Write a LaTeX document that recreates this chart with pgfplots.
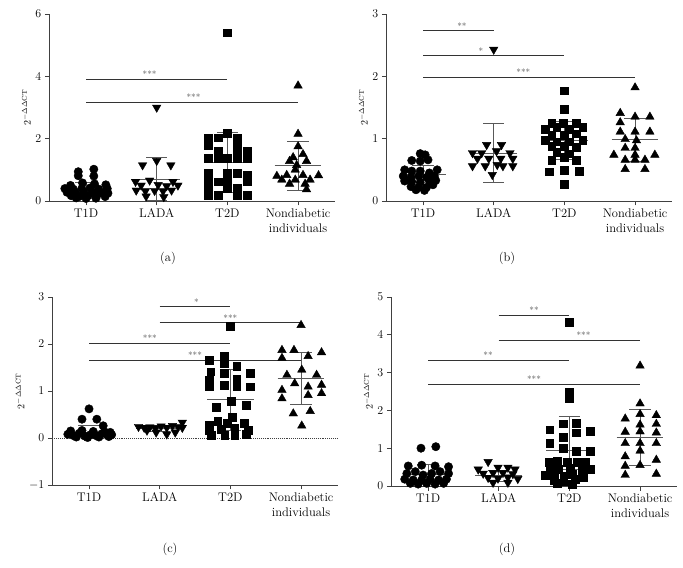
\documentclass[border=0pt]{standalone}
\usepackage{pgfplots}
\pgfplotsset{compat=1.18}
\newcommand{\lbl}{\fontsize{12.5bp}{15bp}\selectfont}
\newcommand{\stf}{\fontsize{9bp}{10bp}\selectfont}
\pgfplotsset{
  panel/.style={
    scale only axis, width=285.5bp, xmin=-0.52, xmax=3.52,
    axis lines=left, axis line style={-, black!75, line width=0.9bp},
    every tick/.style={black!75, line width=0.9bp},
    tick align=outside, major tick length=4.5bp,
    xtick={0,1,2,3},
    xticklabels={T1D,LADA,T2D,{Nondiabetic\\individuals}},
    xticklabel style={align=center, font=\lbl},
    yticklabel style={font=\lbl},
    ylabel={$2^{-\Delta\Delta\mathrm{CT}}$},
    ylabel style={font=\fontsize{9.5bp}{11bp}\selectfont, yshift=-2bp},
    clip=false, unbounded coords=jump, anchor=south west,
  },
  g1/.style={only marks, mark=*, mark size=4.2bp, black},
  g2/.style={only marks, mark=triangle*, mark size=4.9bp, mark options={rotate=180}, black},
  g3/.style={only marks, mark=square*, mark size=3.9bp, black},
  g4/.style={only marks, mark=triangle*, mark size=4.9bp, black},
  ebar/.style={black!65, line width=0.9bp, mark=none},
  sig/.style={black!80, line width=0.9bp, mark=none},
}
\begin{document}
\begin{tikzpicture}
\useasboundingbox (0,0) rectangle (683bp,568bp);
% ---------------- (a)
\begin{axis}[panel, at={(49.3bp,367bp)}, height=187bp, ymin=0, ymax=6, ytick={0,2,4,6}]
\addplot[g1] coordinates {(-0.11,0.94) (-0.11,0.81) (0.11,1.02) (0.11,0.80) (-0.05,0.58) (0.12,0.55) (-0.22,0.50) (0.28,0.52)
 (-0.30,0.40) (-0.18,0.38) (-0.06,0.40) (0.06,0.42) (0.18,0.38) (0.30,0.40)
 (-0.27,0.28) (-0.15,0.27) (-0.03,0.28) (0.09,0.29) (0.21,0.27) (0.31,0.25)
 (-0.21,0.17) (-0.09,0.15) (0.03,0.17) (0.15,0.16) (0.27,0.14) (-0.14,0.10) (0.00,0.08) (0.14,0.09)};
\addplot[g2] coordinates {(1,3.0) (1,1.29) (0.8,1.15) (1.2,1.15)
 (0.70,0.62) (0.90,0.66) (1.23,0.62) (0.78,0.50) (1.02,0.52) (1.14,0.48) (1.30,0.50)
 (0.71,0.34) (0.84,0.32) (0.97,0.33) (1.09,0.32) (1.21,0.34) (0.85,0.15) (1.10,0.13)};
\addplot[g3] coordinates {(2,5.4) (2,2.17) (1.73,2.03) (1.87,2.03) (2.14,2.03)
 (1.73,1.80) (2.14,1.80) (1.87,1.60) (2.14,1.60) (2.28,1.60)
 (1.73,1.38) (1.87,1.38) (2.00,1.38) (2.14,1.38) (2.28,1.38)
 (1.73,0.90) (2.00,0.90) (2.14,0.88) (2.28,0.83)
 (1.73,0.62) (1.87,0.62) (2.00,0.62) (2.28,0.62)
 (1.73,0.41) (2.00,0.41) (2.14,0.41)
 (1.73,0.19) (1.87,0.19) (2.14,0.19) (2.28,0.19)};
\addplot[g4] coordinates {(3,3.70) (3,2.15) (3,1.75) (3.07,1.50) (2.93,1.40) (2.88,1.28) (3.12,1.28) (2.98,1.15) (2.96,1.00)
 (2.70,0.80) (2.84,0.83) (3.07,0.83) (3.29,0.82) (2.77,0.68) (2.96,0.68) (3.17,0.68) (2.88,0.55) (3.10,0.55) (3.12,0.37)};
\addplot[ebar] coordinates {
 (-0.33,0.38) (0.33,0.38) (0,nan) (0,0.14) (0,0.61) (0,nan) (-0.15,0.14) (0.15,0.14) (0,nan) (-0.15,0.61) (0.15,0.61) (0,nan)
 (0.67,0.70) (1.33,0.70) (0,nan) (1,0.02) (1,1.39) (0,nan) (0.85,0.02) (1.15,0.02) (0,nan) (0.85,1.39) (1.15,1.39) (0,nan)
 (1.67,1.23) (2.33,1.23) (0,nan) (2,0.27) (2,2.20) (0,nan) (1.85,0.27) (2.15,0.27) (0,nan) (1.85,2.20) (2.15,2.20) (0,nan)
 (2.67,1.13) (3.33,1.13) (0,nan) (3,0.35) (3,1.91) (0,nan) (2.85,0.35) (3.15,0.35) (0,nan) (2.85,1.91) (3.15,1.91)};
\addplot[sig] coordinates {(0,3.90) (2,3.90) (0,nan) (0,3.17) (3,3.17)};
\node[anchor=south, font=\stf, text=black!65, inner sep=1.5bp] at (axis cs:0.9,3.90) {***};
\node[anchor=south, font=\stf, text=black!65, inner sep=1.5bp] at (axis cs:1.52,3.17) {***};
\end{axis}
% ---------------- (b)
\begin{axis}[panel, at={(386.3bp,367bp)}, height=187bp, ymin=0, ymax=3, ytick={0,1,2,3}]
\addplot[g1] coordinates {(-0.04,0.76) (0.03,0.74) (-0.16,0.65) (-0.04,0.64) (0.07,0.66)
 (-0.26,0.50) (-0.16,0.48) (-0.04,0.48) (0.20,0.50) (0.09,0.45)
 (-0.28,0.40) (-0.17,0.38) (-0.06,0.40) (0.05,0.38) (0.16,0.40)
 (-0.26,0.32) (-0.16,0.31) (-0.04,0.30) (0.09,0.32) (0.18,0.33)
 (-0.17,0.23) (-0.06,0.22) (0.05,0.22) (0.14,0.26) (-0.10,0.18) (0.02,0.17)};
\addplot[g2] coordinates {(1,2.43) (0.90,0.90) (1.11,0.90) (0.70,0.77) (0.83,0.77) (1.04,0.80) (1.23,0.77)
 (0.77,0.68) (0.93,0.68) (1.10,0.68) (1.27,0.68) (0.70,0.56) (0.88,0.56) (1.05,0.58) (1.13,0.56) (1.27,0.56) (0.98,0.42)};
\addplot[g3] coordinates {(2,1.77) (2,1.47) (1.82,1.25) (1.98,1.25) (2.17,1.25)
 (1.73,1.15) (1.89,1.18) (2.07,1.15) (2.26,1.18) (1.82,1.05) (2.00,1.05) (2.17,1.08)
 (1.73,0.97) (1.89,0.95) (2.07,0.95) (2.26,0.98) (1.82,0.88) (2.00,0.88) (2.17,0.86)
 (1.89,0.78) (2.07,0.76) (1.82,0.66) (2.00,0.70) (2.17,0.66)
 (1.78,0.47) (2.00,0.50) (2.21,0.48) (2.00,0.27)};
\addplot[g4] coordinates {(3,1.82) (2.79,1.41) (3,1.35) (3.21,1.35) (2.79,1.26)
 (2.79,1.11) (3,1.11) (3.21,1.11) (2.86,0.99) (3.02,0.97) (2.86,0.85) (3,0.85)
 (2.70,0.74) (3,0.74) (3.28,0.74) (2.86,0.66) (3,0.66) (3.14,0.66) (2.86,0.51) (3.14,0.51)};
\addplot[ebar] coordinates {
 (-0.33,0.42) (0.33,0.42) (0,nan) (0,0.27) (0,0.57) (0,nan) (-0.15,0.27) (0.15,0.27) (0,nan) (-0.15,0.57) (0.15,0.57) (0,nan)
 (0.67,0.77) (1.33,0.77) (0,nan) (1,0.30) (1,1.24) (0,nan) (0.85,0.30) (1.15,0.30) (0,nan) (0.85,1.24) (1.15,1.24) (0,nan)
 (1.67,0.97) (2.33,0.97) (0,nan) (2,0.66) (2,1.27) (0,nan) (1.85,0.66) (2.15,0.66) (0,nan) (1.85,1.27) (2.15,1.27) (0,nan)
 (2.67,0.98) (3.33,0.98) (0,nan) (3,0.63) (3,1.33) (0,nan) (2.85,0.63) (3.15,0.63) (0,nan) (2.85,1.33) (3.15,1.33)};
\addplot[sig] coordinates {(0,2.73) (1,2.73) (0,nan) (0,2.33) (2,2.33) (0,nan) (0,1.98) (3,1.98)};
\node[anchor=south, font=\stf, text=black!65, inner sep=1.5bp] at (axis cs:0.55,2.73) {**};
\node[anchor=south, font=\stf, text=black!65, inner sep=1.5bp] at (axis cs:0.82,2.33) {*};
\node[anchor=south, font=\stf, text=black!65, inner sep=1.5bp] at (axis cs:1.42,1.98) {***};
\end{axis}
% ---------------- (c)
\begin{axis}[panel, at={(52.3bp,83bp)}, height=188bp, ymin=-1, ymax=3, ytick={-1,0,1,2,3}]
\addplot[black!75, densely dotted, line width=0.9bp, mark=none] coordinates {(-0.52,0) (3.52,0)};
\addplot[g1] coordinates {(0.0,0.62) (-0.10,0.40) (0.11,0.40) (0.20,0.26)
 (-0.30,0.08) (-0.22,0.05) (-0.14,0.10) (-0.06,0.04) (0.02,0.07) (0.10,0.05) (0.18,0.09) (0.26,0.06) (0.32,0.07)
 (-0.26,0.15) (-0.10,0.16) (0.06,0.14) (0.22,0.13) (0.30,0.12)
 (-0.18,0.02) (-0.02,0.01) (0.14,0.02) (0.28,0.03)};
\addplot[g2] coordinates {(0.70,0.24) (0.78,0.22) (0.86,0.23) (0.94,0.21) (1.02,0.25) (1.10,0.22) (1.18,0.26) (1.26,0.24) (1.32,0.33) (1.32,0.22)
 (0.95,0.12) (1.10,0.08) (1.22,0.12) (0.82,0.16)};
\addplot[g3] coordinates {(2,2.38) (1.70,1.66) (1.91,1.745) (1.91,1.59) (2.09,1.52) (1.72,1.41) (1.91,1.38) (2.28,1.38)
 (1.70,1.23) (2.09,1.26) (1.70,1.09) (1.91,1.13) (2.09,1.09) (2.28,1.09) (2.01,0.79) (2.22,0.70)
 (1.80,0.65) (2.03,0.44) (1.70,0.28) (1.82,0.35) (1.96,0.31) (2.20,0.31)
 (1.70,0.16) (1.87,0.18) (2.06,0.21) (2.25,0.16) (1.73,0.06) (1.92,0.06) (2.06,0.06) (2.22,0.08)};
\addplot[g4] coordinates {(3,2.40) (2.73,1.87) (2.90,1.87) (3.29,1.82) (2.73,1.70) (3.10,1.74) (3.01,1.45) (2.80,1.34) (3.22,1.34)
 (2.91,1.16) (3.10,1.09) (3.29,1.13) (2.73,1.02) (3.10,0.91) (3.29,0.95) (2.73,0.84) (2.89,0.52) (3.13,0.57) (3.01,0.26)};
\addplot[ebar] coordinates {
 (-0.33,0.11) (0.33,0.11) (0,nan) (-0.15,0.26) (0.15,0.26) (0,nan)
 (0.67,0.20) (1.33,0.20) (0,nan) (0.85,0.27) (1.15,0.27) (0,nan) (0.85,0.14) (1.15,0.14) (0,nan)
 (1.67,0.81) (2.33,0.81) (0,nan) (2,0.17) (2,1.45) (0,nan) (1.85,0.17) (2.15,0.17) (0,nan) (1.85,1.45) (2.15,1.45) (0,nan)
 (2.67,1.27) (3.33,1.27) (0,nan) (3,0.72) (3,1.81) (0,nan) (2.85,0.72) (3.15,0.72) (0,nan) (2.85,1.81) (3.15,1.81)};
\addplot[sig] coordinates {(1,2.79) (2,2.79) (0,nan) (1,2.45) (3,2.45) (0,nan) (0,2.01) (2,2.01) (0,nan) (0,1.65) (3,1.65)};
\node[anchor=south, font=\stf, text=black!65, inner sep=1.5bp] at (axis cs:1.52,2.79) {*};
\node[anchor=south, font=\stf, text=black!65, inner sep=1.5bp] at (axis cs:2.0,2.45) {***};
\node[anchor=south, font=\stf, text=black!65, inner sep=1.5bp] at (axis cs:0.86,2.01) {***};
\node[anchor=south, font=\stf, text=black!65, inner sep=1.5bp] at (axis cs:1.5,1.65) {***};
\end{axis}
% ---------------- (d)
\begin{axis}[panel, at={(391.3bp,82bp)}, height=189bp, ymin=0, ymax=5, ytick={0,1,2,3,4,5}]
\addplot[g1] coordinates {(-0.10,1.00) (0.11,1.04) (-0.28,0.53) (-0.09,0.55) (0.10,0.53) (0.29,0.51)
 (-0.30,0.33) (-0.18,0.38) (-0.07,0.29) (0.05,0.33) (0.17,0.38) (0.29,0.33)
 (-0.33,0.18) (-0.21,0.16) (-0.09,0.16) (0.03,0.18) (0.15,0.16) (0.26,0.18)
 (-0.25,0.07) (-0.14,0.05) (-0.02,0.07) (0.10,0.05) (0.22,0.07)};
\addplot[g2] coordinates {(0.85,0.64) (0.71,0.44) (0.99,0.49) (1.13,0.49) (1.23,0.44) (0.78,0.33) (0.92,0.35) (1.06,0.35) (1.20,0.32)
 (0.85,0.22) (0.99,0.20) (1.13,0.23) (1.27,0.19) (0.92,0.09) (1.13,0.09)};
\addplot[g3] coordinates {(2,4.33) (2,2.49) (2,2.31) (1.91,1.65) (2.10,1.67) (1.72,1.49) (2.29,1.46) (2.10,1.41) (1.91,1.30)
 (1.72,1.14) (1.91,0.99) (2.10,0.92) (2.29,0.92)
 (1.71,0.64) (1.83,0.66) (1.97,0.64) (2.11,0.64) (2.23,0.64)
 (1.73,0.49) (1.85,0.44) (2.01,0.47) (2.18,0.44) (2.30,0.44)
 (1.66,0.29) (1.78,0.34) (1.92,0.25) (2.04,0.32) (2.18,0.29)
 (1.78,0.16) (1.92,0.12) (2.08,0.18) (2.20,0.23) (1.83,0.07) (2.04,0.05)};
\addplot[g4] coordinates {(3,3.18) (3,2.18) (2.79,1.78) (3,1.90) (3.23,1.87) (3,1.62) (3.23,1.64) (2.79,1.43) (3,1.44) (3.23,1.41)
 (2.79,1.13) (3,1.13) (3.23,1.13) (3,0.93) (2.79,0.78) (3.23,0.69) (2.79,0.53) (3,0.55) (3.23,0.32) (2.79,0.29)};
\addplot[ebar] coordinates {
 (-0.33,0.30) (0.33,0.30) (0,nan) (0,0.05) (0,0.57) (0,nan) (-0.15,0.57) (0.15,0.57) (0,nan)
 (0.67,0.27) (1.33,0.27) (0,nan) (1,0.12) (1,0.42) (0,nan) (0.85,0.12) (1.15,0.12) (0,nan) (0.85,0.42) (1.15,0.42) (0,nan)
 (1.67,0.93) (2.33,0.93) (0,nan) (2,0.44) (2,1.83) (0,nan) (1.85,0.44) (2.15,0.44) (0,nan) (1.85,1.83) (2.15,1.83) (0,nan)
 (2.67,1.29) (3.33,1.29) (0,nan) (3,0.55) (3,2.03) (0,nan) (2.85,0.55) (3.15,0.55) (0,nan) (2.85,2.03) (3.15,2.03)};
\addplot[sig] coordinates {(1,4.52) (2,4.52) (0,nan) (1,3.85) (3,3.85) (0,nan) (0,3.32) (2,3.32) (0,nan) (0,2.69) (3,2.69)};
\node[anchor=south, font=\stf, text=black!65, inner sep=1.5bp] at (axis cs:1.5,4.52) {**};
\node[anchor=south, font=\stf, text=black!65, inner sep=1.5bp] at (axis cs:2.2,3.85) {***};
\node[anchor=south, font=\stf, text=black!65, inner sep=1.5bp] at (axis cs:0.85,3.32) {**};
\node[anchor=south, font=\stf, text=black!65, inner sep=1.5bp] at (axis cs:1.5,2.69) {***};
\end{axis}
\node[font=\lbl] at (168bp,310bp) {(a)};
\node[font=\lbl] at (507bp,310bp) {(b)};
\node[font=\lbl] at (170bp,19bp) {(c)};
\node[font=\lbl] at (507bp,19bp) {(d)};
\end{tikzpicture}
\end{document}
